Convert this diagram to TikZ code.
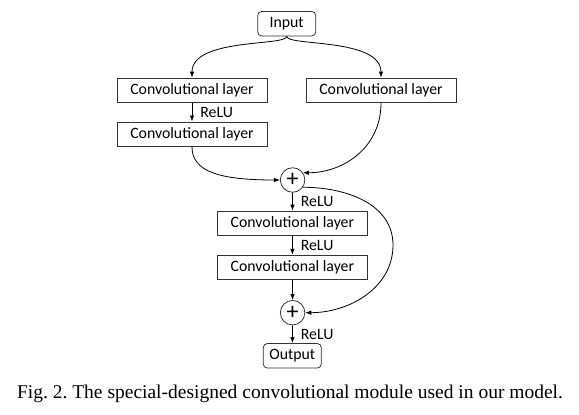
\documentclass[tikz,border=0pt]{standalone}
\usepackage{fontspec}
\setmainfont{Liberation Serif}
\newfontfamily\calibri{Carlito}
\usetikzlibrary{arrows.meta}
\frenchspacing

\begin{document}
\begin{tikzpicture}[x=1pt,y=1pt,
    laag/.style={draw=black!80, line width=0.8pt, minimum width=150pt, minimum height=24.5pt,
      inner sep=0pt, font=\calibri\fontsize{15.8}{18}\selectfont},
    eind/.style={laag, rounded corners=4pt, minimum width=58pt},
    som/.style={draw=black!80, line width=0.8pt, circle, minimum size=24.5pt, inner sep=0pt,
      font=\calibri\fontsize{24}{24}\selectfont},
    pijl/.style={line width=0.8pt, -{Latex[length=6pt,width=4.5pt]}},
    relu/.style={anchor=west, xshift=8pt, inner sep=0pt, font=\calibri\fontsize{15.8}{18}\selectfont}]
    \useasboundingbox (0,0) rectangle (579,-415);

    % Knopen
    \node[eind] (input)  at (286.7,-23.7) {Input};
    \node[laag] (convA)  at (192,-90.3)   {Convolutional layer};
    \node[laag] (convB)  at (381,-90.3)   {Convolutional layer};
    \node[laag] (convC)  at (192,-134.2)  {Convolutional layer};
    \node[som]  (somA)   at (292.6,-180)  {+};
    \node[laag] (convD)  at (292.4,-223.3) {Convolutional layer};
    \node[laag] (convE)  at (292.4,-267.5) {Convolutional layer};
    \node[som]  (somB)   at (292.6,-312.7) {+};
    \node[eind] (output) at (292.3,-355.8) {Output};
    \coordinate (omweg) at (393,-245);

    % Pijlen
    \draw[pijl] (input.south) .. controls +(0,-10) and +(0,40) .. (convA.north);
    \draw[pijl] (input.south) .. controls +(0,-10) and +(0,40) .. (convB.north);
    \draw[pijl] (convA) -- node[relu] (reluA) {ReLU} (convC);
    \draw[pijl] (convC.south) .. controls +(0,-25) and +(-60,0) .. (somA.west);
    \draw[pijl] (convB.south) .. controls +(0,-45) and +(40,0) .. (somA.35);
    \draw[pijl] (somA) -- node[relu] (reluB) {ReLU} (convD);
    \draw[pijl] (convD) -- node[relu] (reluC) {ReLU} (convE);
    \draw[pijl] (convE) -- (somB);
    \draw[pijl] (somA.-35) to[out=0,in=90] (omweg) to[out=-90,in=0] (somB.east);
    \draw[pijl] (somB) -- node[relu] (reluD) {ReLU} (output);

    % Onderschrift
    \node[font=\fontsize{19.5}{24}\selectfont] (bijschrift) at (290,-394)
      {Fig. 2. The special-designed convolutional module used in our model.};
\end{tikzpicture}
\end{document}
